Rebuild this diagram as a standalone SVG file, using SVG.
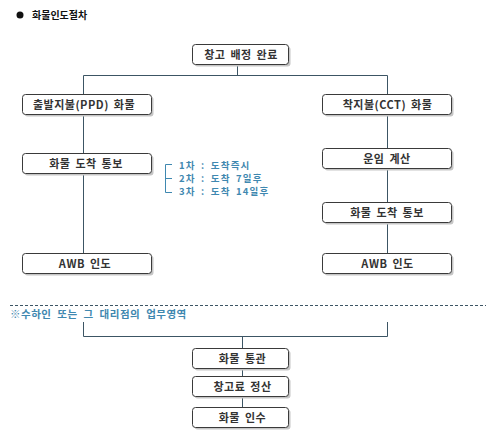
<svg xmlns="http://www.w3.org/2000/svg" width="495" height="442" viewBox="0 0 495 442">
<style>
.box rect.s{fill:#c6c6c6;stroke:none}
.box rect.b{fill:#fff;stroke:#3a3a3a;stroke-width:1}
.box text{font-family:"Noto Sans CJK KR","Noto Sans",sans-serif;font-size:11px;font-weight:bold;fill:#333;text-anchor:middle;letter-spacing:0.5px;word-spacing:2px}
.con{stroke:#3c5564;stroke-width:1;fill:none}
.blue{font-family:"Noto Sans CJK KR","Noto Sans",sans-serif;fill:#3f88b0;font-weight:bold}
</style>
<rect width="495" height="442" fill="#fff"/>
<g id="title">
<circle cx="20" cy="15" r="3.5" fill="#111"/>
<text x="32" y="19" font-family="'Noto Sans CJK KR','Noto Sans',sans-serif" font-size="10px" font-weight="bold" fill="#111">화물인도절차</text>
</g>
<g id="connectors">
<path class="con" d="M237.5 65V75.5M83.5 75.5H387.5M83.5 75.5V253M387.5 75.5V253"/>
<path d="M10 305.5H486" stroke="#3c5564" stroke-width="1" stroke-dasharray="3 2"/>
<path class="con" d="M83.5 322V336.5H387.5V322M242.5 336.5V348M242.5 368V376M242.5 397V407"/>
<path d="M172 164.5H165.5V192.5H172M165.5 178.5H172" stroke="#3f88b0" stroke-width="1" fill="none"/>
</g>
<g id="n1" class="box"><rect class="s" x="194.5" y="46.5" width="96" height="20" rx="3"/><rect class="b" x="192.5" y="44.5" width="96" height="20" rx="3"/><text x="241" y="58.5">창고 배정 완료</text></g>
<g id="n2" class="box"><rect class="s" x="24.5" y="96.5" width="129" height="20" rx="3"/><rect class="b" x="22.5" y="94.5" width="129" height="20" rx="3"/><text x="84" y="108.5">출발지불(PPD) 화물</text></g>
<g id="n3" class="box"><rect class="s" x="24.5" y="155.5" width="129" height="20" rx="3"/><rect class="b" x="22.5" y="153.5" width="129" height="20" rx="3"/><text x="86" y="167.5">화물 도착 통보</text></g>
<g id="n4" class="box"><rect class="s" x="24.5" y="255.5" width="129" height="20" rx="3"/><rect class="b" x="22.5" y="253.5" width="129" height="20" rx="3"/><text x="85" y="267.5">AWB 인도</text></g>
<g id="n5" class="box"><rect class="s" x="324.5" y="96.5" width="129" height="20" rx="3"/><rect class="b" x="322.5" y="94.5" width="129" height="20" rx="3"/><text x="387.5" y="108.5">착지불(CCT) 화물</text></g>
<g id="n6" class="box"><rect class="s" x="324.5" y="150.5" width="129" height="20" rx="3"/><rect class="b" x="322.5" y="148.5" width="129" height="20" rx="3"/><text x="387" y="162.5">운임 계산</text></g>
<g id="n7" class="box"><rect class="s" x="324.5" y="204.5" width="129" height="20" rx="3"/><rect class="b" x="322.5" y="202.5" width="129" height="20" rx="3"/><text x="387" y="216.5">화물 도착 통보</text></g>
<g id="n8" class="box"><rect class="s" x="324.5" y="255.5" width="129" height="20" rx="3"/><rect class="b" x="322.5" y="253.5" width="129" height="20" rx="3"/><text x="387.5" y="267.5">AWB 인도</text></g>
<g id="n9" class="box"><rect class="s" x="194.5" y="350.5" width="96" height="20" rx="3"/><rect class="b" x="192.5" y="348.5" width="96" height="20" rx="3"/><text x="242.5" y="362.5">화물 통관</text></g>
<g id="n10" class="box"><rect class="s" x="194.5" y="378.5" width="96" height="20" rx="3"/><rect class="b" x="192.5" y="376.5" width="96" height="20" rx="3"/><text x="242.5" y="390.5">창고료 정산</text></g>
<g id="n11" class="box"><rect class="s" x="194.5" y="409.5" width="96" height="20" rx="3"/><rect class="b" x="192.5" y="407.5" width="96" height="20" rx="3"/><text x="242.5" y="421.5">화물 인수</text></g>
<g id="note1" class="blue" font-size="9.5px" letter-spacing="1.2px" word-spacing="2px">
<text x="179" y="168.5">1차 : 도착즉시</text>
<text x="179" y="181.5">2차 : 도착 7일후</text>
<text x="179" y="194.5">3차 : 도착 14일후</text>
</g>
<g id="note2"><text class="blue" x="10" y="318" font-size="10.5px" letter-spacing="0.5px" word-spacing="3px">※수하인 또는 그 대리점의 업무영역</text></g>
</svg>
